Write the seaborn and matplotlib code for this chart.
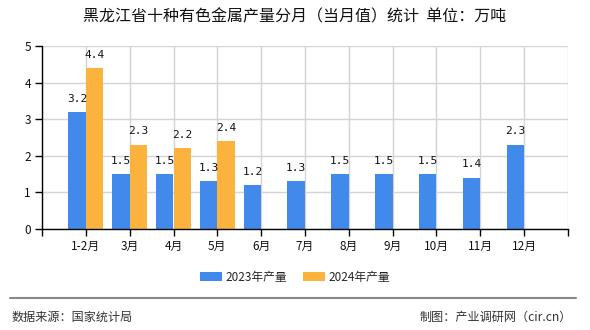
import numpy as np
import pandas as pd
import matplotlib
matplotlib.use("Agg")
import matplotlib.pyplot as plt
from matplotlib.patches import Patch
from matplotlib.lines import Line2D
import seaborn as sns

# Monthly output (10k tonnes)
months = ["1-2月", "3月", "4月", "5月", "6月", "7月", "8月", "9月", "10月", "11月", "12月"]
output_2023 = [3.2, 1.5, 1.5, 1.3, 1.2, 1.3, 1.5, 1.5, 1.5, 1.4, 2.3]
output_2024 = [4.4, 2.3, 2.2, 2.4, np.nan, np.nan, np.nan, np.nan, np.nan, np.nan, np.nan]
series_names = ["2023年产量", "2024年产量"]
colors = ["#418AEB", "#FBB33D"]
y_ticks = [0, 1, 2, 3, 4, 5]

df = pd.DataFrame({
    "month": months * 2,
    "series": [series_names[0]] * len(months) + [series_names[1]] * len(months),
    "value": output_2023 + output_2024,
})

sns.set_theme(style="white")
plt.rcParams["font.family"] = ["Noto Sans CJK SC", "DejaVu Sans"]

fig = plt.figure(figsize=(5.9, 3.3), dpi=100)
ax = fig.add_axes([42 / 590, 1 - 229 / 330, 526 / 590, 183 / 330])

sns.barplot(data=df, x="month", y="value", hue="series", order=months,
            hue_order=series_names, palette=colors, width=0.8,
            saturation=1, dodge=True, legend=False, ax=ax, errorbar=None,
            linewidth=0, edgecolor="none")

# value labels above each bar
for container in ax.containers:
    for bar in container:
        h = bar.get_height()
        if h is None or np.isnan(h):
            continue
        ax.annotate(f"{h:.1f}", (bar.get_x() + bar.get_width() / 2, h),
                    xytext=(0, 6), textcoords="offset points",
                    ha="center", va="bottom", fontsize=8,
                    family=["DejaVu Sans Mono"], color="#111111")

ax.set_xlim(-1, 11)
ax.set_ylim(0, 5)
ax.set_xticks(range(-1, 12))
ax.set_xticklabels([""] + months + [""], fontsize=8.5)
ax.set_yticks(y_ticks)
ax.set_yticklabels([str(t) for t in y_ticks], fontsize=8.5)
ax.set_xlabel("")
ax.set_ylabel("")

ax.grid(True, color="#d4d4d4", linewidth=1)
ax.set_axisbelow(True)
for side in ["top", "right"]:
    ax.spines[side].set_visible(False)
for side in ["left", "bottom"]:
    ax.spines[side].set_color("#000000")
    ax.spines[side].set_linewidth(1)
ax.tick_params(axis="both", which="both", length=5, width=1, color="#000000",
               direction="out", pad=3, labelcolor="#111111")
ax.tick_params(axis="x", bottom=True)
ax.tick_params(axis="y", left=True)

fig.text(0.5, 1 - 17 / 330, "黑龙江省十种有色金属产量分月（当月值）统计  单位：万吨",
         ha="center", va="center", fontsize=11.5, color="#111111")

handles = [Patch(facecolor=c, edgecolor="none") for c in colors]
fig.legend(handles, series_names, loc="center", bbox_to_anchor=(0.5, 1 - 277 / 330),
           ncol=2, frameon=False, fontsize=8.5, handlelength=1.8, handleheight=0.75,
           handletextpad=0.3, columnspacing=1.4)

fig.add_artist(Line2D([10 / 590, 576 / 590], [1 - 298 / 330] * 2,
                      transform=fig.transFigure, color="#888888", linewidth=1.5))
fig.text(12 / 590, 1 - 317 / 330, "数据来源：国家统计局", ha="left", va="center",
         fontsize=8.7, color="#333333")
fig.text(572 / 590, 1 - 317 / 330, "制图：产业调研网（cir.cn）", ha="right", va="center",
         fontsize=8.7, color="#333333")

fig.savefig("out.png", dpi=100)
